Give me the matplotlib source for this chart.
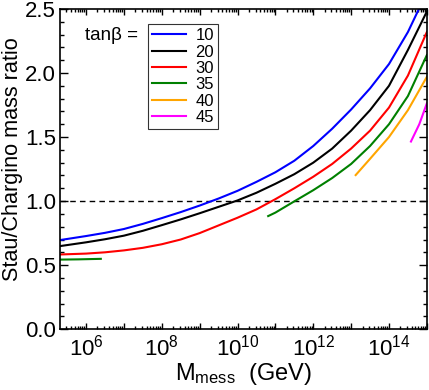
import math
import matplotlib
matplotlib.use('Agg')
import matplotlib.pyplot as plt
from matplotlib.ticker import LogLocator, NullFormatter, MultipleLocator, FuncFormatter

plt.rcParams['font.family'] = ['Liberation Sans', 'DejaVu Sans']
plt.rcParams['mathtext.fontset'] = 'custom'
plt.rcParams['mathtext.rm'] = 'Liberation Sans'
plt.rcParams['mathtext.it'] = 'Liberation Sans:italic'

# log10(M_mess / GeV) and stau/chargino mass ratio
tb10_logm = [5.3, 6.0, 6.5, 7.0, 7.5, 8.0, 8.5, 9.0, 9.5, 10.0, 10.5, 11.0, 11.5,
             12.0, 12.5, 13.0, 13.5, 14.0, 14.5, 15.0]
tb10_ratio = [0.695, 0.727, 0.752, 0.782, 0.822, 0.867, 0.914, 0.965, 1.02, 1.08, 1.15,
              1.225, 1.315, 1.43, 1.565, 1.715, 1.88, 2.07, 2.32, 2.63]

tb20_logm = [5.3, 6.0, 6.5, 7.0, 7.5, 8.0, 8.5, 9.0, 9.5, 10.0, 10.5, 11.0, 11.5,
             12.0, 12.5, 13.0, 13.5, 14.0, 14.5, 15.0]
tb20_ratio = [0.648, 0.678, 0.702, 0.73, 0.768, 0.812, 0.857, 0.905, 0.955, 1.005, 1.065,
              1.135, 1.21, 1.30, 1.41, 1.55, 1.71, 1.90, 2.18, 2.48]

tb30_logm = [5.3, 6.0, 6.5, 7.0, 7.5, 8.0, 8.5, 9.0, 9.5, 10.0, 10.5, 11.0, 11.5,
             12.0, 12.5, 13.0, 13.5, 14.0, 14.5, 15.0]
tb30_ratio = [0.583, 0.59, 0.60, 0.615, 0.635, 0.663, 0.70, 0.75, 0.81, 0.87, 0.935,
              1.015, 1.10, 1.19, 1.29, 1.41, 1.55, 1.73, 1.98, 2.32]

tb35a_logm = [5.3, 5.8, 6.39]
tb35a_ratio = [0.543, 0.545, 0.549]
tb35b_logm = [10.81, 11.0, 11.5, 12.0, 12.5, 13.0, 13.5, 14.0, 14.5, 15.0]
tb35b_ratio = [0.883, 0.91, 0.998, 1.085, 1.18, 1.29, 1.43, 1.60, 1.82, 2.14]

tb40_logm = [13.12, 13.5, 14.0, 14.5, 15.0]
tb40_ratio = [1.203, 1.33, 1.50, 1.71, 1.97]

tb45_logm = [14.58, 14.8, 15.0]
tb45_ratio = [1.465, 1.60, 1.763]

fig = plt.figure(figsize=(4.29, 3.90), dpi=100)
ax = fig.add_axes([0.140, 0.156, 0.855, 0.821])

lw = 1.5
def m(logs):
    return [10 ** v for v in logs]

ax.axhline(1.0, color='black', lw=1.0, ls=(0, (4, 3)))
ax.plot(m(tb10_logm), tb10_ratio, color='#0000ff', lw=lw, label='10')
ax.plot(m(tb20_logm), tb20_ratio, color='black', lw=lw, label='20')
ax.plot(m(tb30_logm), tb30_ratio, color='#ff0000', lw=lw, label='30')
ax.plot(m(tb35a_logm), tb35a_ratio, color='#008000', lw=lw, label='35')
ax.plot(m(tb35b_logm), tb35b_ratio, color='#008000', lw=lw)
ax.plot(m(tb40_logm), tb40_ratio, color='#ffa500', lw=lw, label='40')
ax.plot(m(tb45_logm), tb45_ratio, color='#ff00ff', lw=lw, label='45')

ax.set_xscale('log')
ax.set_xlim(2.06e5, 1e15)
ax.set_ylim(0, 2.5)

ax.xaxis.set_major_locator(LogLocator(base=10, numticks=20))
ax.xaxis.set_minor_locator(LogLocator(base=10, subs=range(2, 10), numticks=200))
def fmt(v, pos):
    e = int(round(math.log10(v)))
    # label every second decade, only inside the shown range
    return r'$10^{%d}$' % e if (e % 2 == 0 and 6 <= e <= 14) else ''
ax.xaxis.set_major_formatter(FuncFormatter(fmt))
ax.xaxis.set_minor_formatter(NullFormatter())
ax.yaxis.set_major_locator(MultipleLocator(0.5))
ax.yaxis.set_minor_locator(MultipleLocator(0.1))
ax.yaxis.set_major_formatter(FuncFormatter(lambda v, p: '%.1f' % v))

ax.tick_params(which='both', direction='in', top=True, right=True, width=1)
ax.tick_params(axis='y', which='major', length=5.5, labelsize=16, pad=3)
ax.tick_params(axis='y', which='minor', length=3)
ax.tick_params(axis='x', which='major', length=4.5, labelsize=16, pad=4)
ax.tick_params(axis='x', which='minor', length=2.2)
for s in ax.spines.values():
    s.set_linewidth(1.2)

ax.set_ylabel('Stau/Chargino mass ratio', fontsize=15.6)
ax.yaxis.set_label_coords(-0.10, 0.53)
ax.set_xlabel(r'M$_{\rm mess}$  (GeV)', fontsize=17, labelpad=0)

ax.text(0.2125, 0.916, 'tanβ =', transform=ax.transAxes, ha='right', va='center', fontsize=13.5)
leg = ax.legend(loc='upper left', bbox_to_anchor=(0.24, 0.953), borderaxespad=0, fontsize=12,
                frameon=True, fancybox=False, handlelength=2.0, labelspacing=0.08,
                handletextpad=0.6, borderpad=0.25)
leg.get_frame().set_edgecolor('black')
leg.get_frame().set_linewidth(0.8)

fig.savefig('out.png', dpi=100)
